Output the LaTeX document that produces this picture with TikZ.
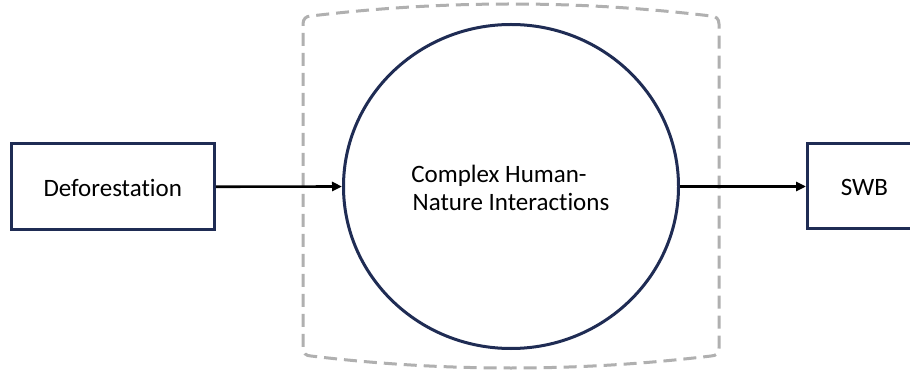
\documentclass[tikz,border=0pt]{standalone}
\usepackage{fontspec}
\setmainfont{Carlito}[Ligatures={NoCommon,NoRare,NoContextual}]
\usetikzlibrary{arrows.meta,shapes.geometric}
\definecolor{navy}{HTML}{1F2C54}
\definecolor{dashgray}{HTML}{B0B0B0}
\tikzset{
  boxstyle/.style={draw=navy, line width=3pt, fill=white, inner sep=0pt},
  labeltext/.style={font=\fontsize{25}{28}\selectfont, text=black},
  conn/.style={line width=2.6pt, black, -{Triangle[length=10pt,width=9pt]}},
  frame/.style={draw=dashgray, line width=3pt, dash pattern=on 13pt off 7pt}
}
\begin{document}
\begin{tikzpicture}[x=1pt,y=-1pt]
\clip (0,0) rectangle (910,371);
\fill[white] (0,0) rectangle (910,371);
% dashed container
\draw[frame] (303,186) -- (303,24) .. controls (303,19) and (306,16) .. (311,16)
  .. controls (444,0) and (578,0) .. (711,16)
  .. controls (716,16) and (719,19) .. (719,24) -- (719,348)
  .. controls (719,353) and (716,356) .. (711,356)
  .. controls (578,372) and (444,372) .. (311,356)
  .. controls (306,356) and (303,353) .. (303,348) -- cycle;
% nodes
\node[boxstyle, minimum width=203.5pt, minimum height=85.5pt] (def) at (112.75,186.75) {};
\node[labeltext] (deftext) at (112.75,187.5) {Deforestation};
\node[boxstyle, minimum width=115pt, minimum height=85pt] (swb) at (865,186.5) {};
\node[labeltext] (swbtext) at (864.5,187.5) {SWB};
\node[ellipse, draw=navy, line width=3pt, fill=white, minimum width=335pt, minimum height=324pt, inner sep=0pt] (circ) at (511,186.5) {};
\node[labeltext, align=center] (circtext) at (511,188) {Complex Human-\hspace*{24pt}\\Nature Interactions};
% connectors
\draw[conn] (def.east) -- (circ.west);
\draw[conn] (circ.east) -- (swb.west);
\end{tikzpicture}
\end{document}
